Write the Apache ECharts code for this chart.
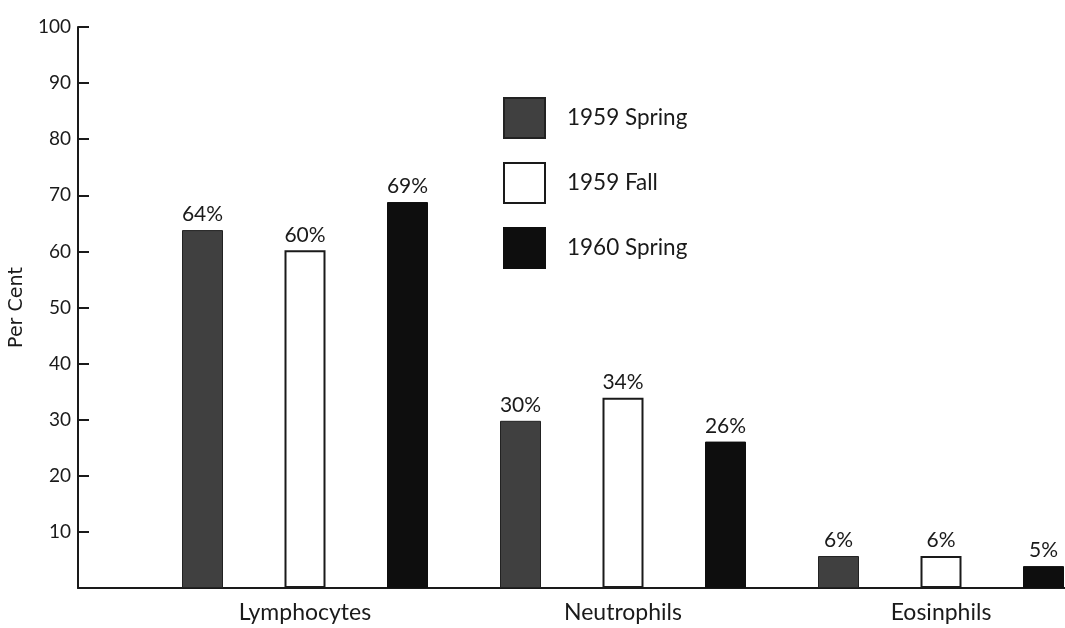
<!DOCTYPE html>
<html>
<head>
<meta charset="utf-8">
<script src="https://cdn.jsdelivr.net/npm/echarts@6/dist/echarts.min.js"></script>
<style>html,body{margin:0;padding:0;background:#fff;}#c{width:1065px;height:628px;}</style>
</head>
<body>
<div id="c"></div>
<script>
const categories = ['Lymphocytes', 'Neutrophils', 'Eosinphils'];
const seriesNames = ['1959 Spring', '1959 Fall', '1960 Spring'];
const spring1959 = [63.8, 29.8, 5.7];
const fall1959 = [60.2, 33.9, 5.7];
const spring1960 = [68.8, 26.1, 3.9];
const spring1959Labels = ['64%', '30%', '6%'];
const fall1959Labels = ['60%', '34%', '6%'];
const spring1960Labels = ['69%', '26%', '5%'];
const yTicks = [0, 10, 20, 30, 40, 50, 60, 70, 80, 90, 100];

const FONT = 'Lato, "Noto Sans", sans-serif';
const WIDE = '"DejaVu Sans", sans-serif';
const INK = '#1a1a1a';

function mkSeries(name, values, labels, style) {
  return {
    name: name,
    type: 'bar',
    xAxisIndex: 1,
    yAxisIndex: 1,
    barWidth: 41,
    barGap: '150%',
    data: values,
    itemStyle: style,
    label: {
      show: true,
      position: 'top',
      distance: 5,
      color: INK,
      fontFamily: FONT,
      fontSize: 21,
      formatter: p => labels[p.dataIndex]
    }
  };
}

const chart = echarts.init(document.getElementById('c'), null, {renderer: 'canvas'});
chart.setOption({
  backgroundColor: '#ffffff',
  animation: false,
  textStyle: {fontFamily: FONT, color: INK},
  legend: {
    orient: 'vertical',
    left: 503,
    top: 97,
    padding: 0,
    itemWidth: 41,
    itemHeight: 40,
    itemGap: 23,
    icon: 'rect',
    data: seriesNames,
    textStyle: {fontFamily: FONT, fontSize: 22.5, color: INK, padding: [0, 0, 0, 17]}
  },
  grid: [
    {left: 78, top: 27, width: 987, height: 561},
    {left: 305, top: 27, width: 636, height: 561}
  ],
  xAxis: [
    {
      gridIndex: 0, type: 'value', min: 0, max: 1,
      axisLine: {show: true, lineStyle: {color: INK, width: 2}},
      axisTick: {show: false}, axisLabel: {show: false}, splitLine: {show: false}
    },
    {
      gridIndex: 1, type: 'category', data: categories, boundaryGap: false,
      axisLine: {show: false}, axisTick: {show: false},
      axisLabel: {color: INK, fontFamily: FONT, fontSize: 23, margin: 13},
      splitLine: {show: false}
    }
  ],
  yAxis: [
    {
      gridIndex: 0, type: 'value', min: yTicks[0], max: yTicks[yTicks.length - 1], interval: 10,
      axisLine: {show: true, lineStyle: {color: INK, width: 2}},
      axisTick: {show: true, inside: true, length: 11, lineStyle: {color: INK, width: 2}},
      axisLabel: {color: INK, fontFamily: FONT, fontSize: 19, margin: 7,
        formatter: v => (v === 0 ? '' : String(v))},
      splitLine: {show: false},
      name: 'Per Cent', nameLocation: 'middle', nameRotate: 90, nameGap: 40,
      nameTextStyle: {color: INK, fontFamily: WIDE, fontSize: 19}
    },
    {
      gridIndex: 1, type: 'value', min: 0, max: 100, show: false, splitLine: {show: false}
    }
  ],
  series: [
    mkSeries(seriesNames[0], spring1959, spring1959Labels, {color: '#404040', borderColor: '#222', borderWidth: 1}),
    mkSeries(seriesNames[1], fall1959, fall1959Labels, {color: '#ffffff', borderColor: INK, borderWidth: 2}),
    mkSeries(seriesNames[2], spring1960, spring1960Labels, {color: '#0e0e0e', borderColor: '#0e0e0e', borderWidth: 1})
  ]
});
</script>
</body>
</html>
